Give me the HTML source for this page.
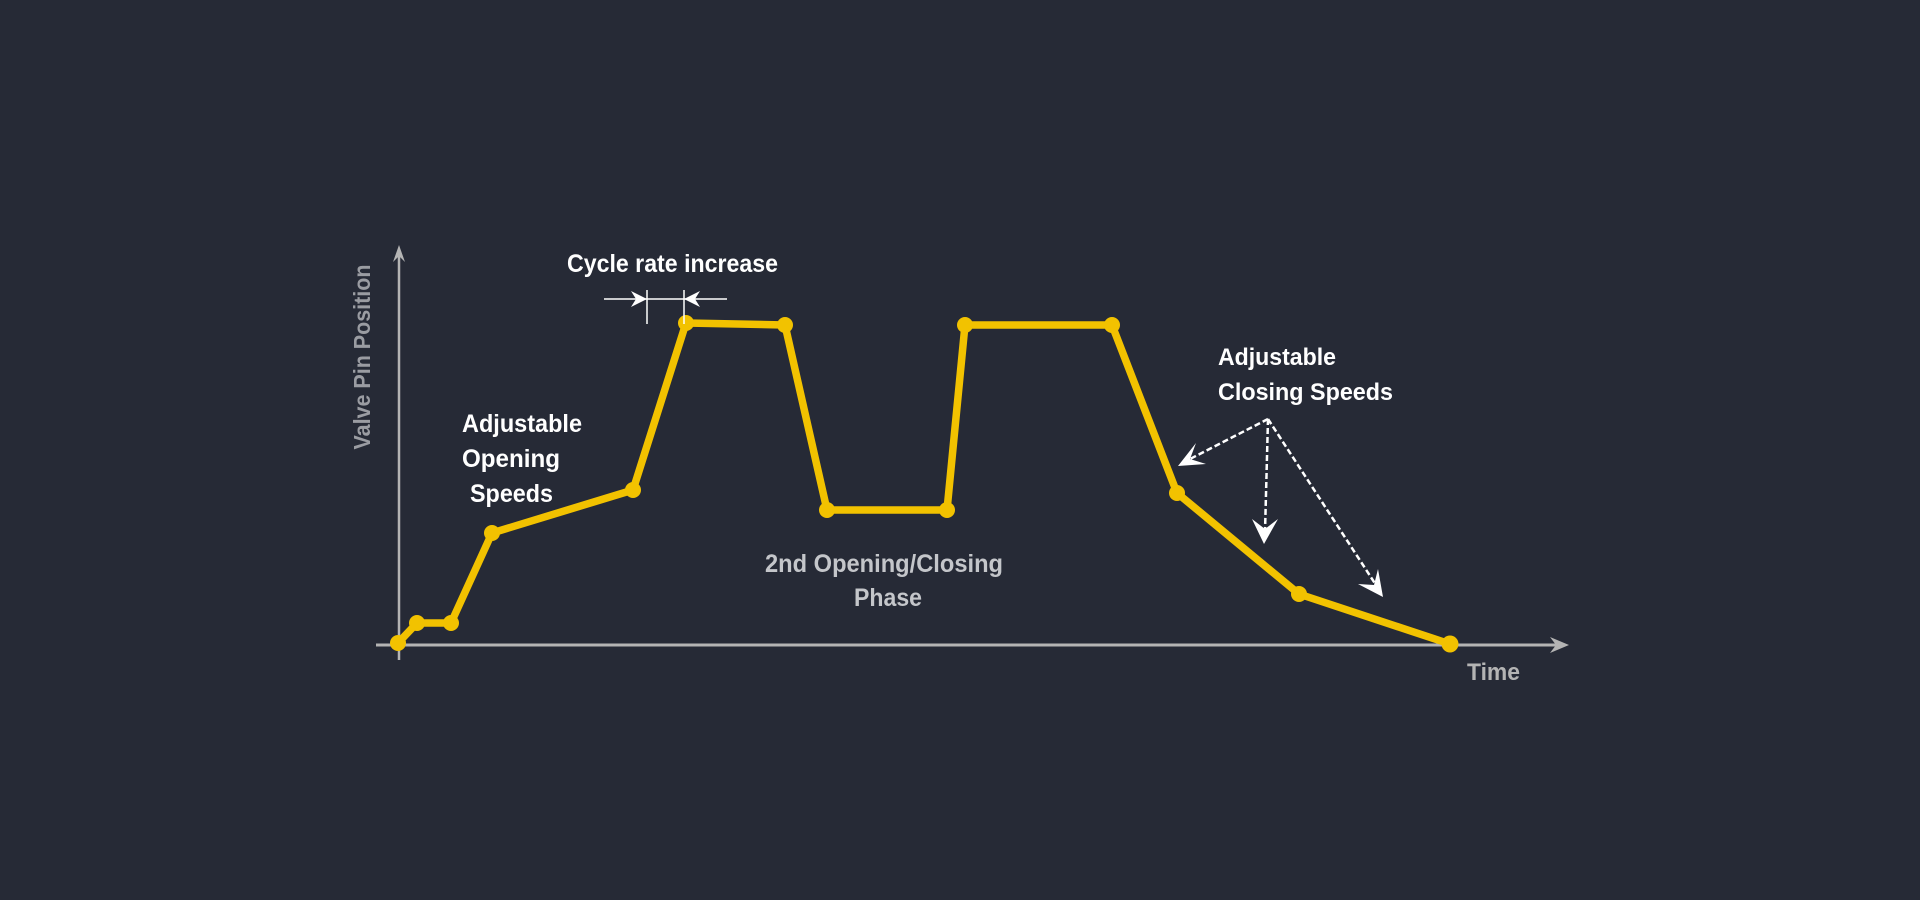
<!DOCTYPE html>
<html><head><meta charset="utf-8"><style>
html,body{margin:0;padding:0;background:#262a36;}
svg{display:block;}
text{font-family:"Liberation Sans",Arial,sans-serif;font-weight:bold;}
</style></head><body>
<svg width="1920" height="900" viewBox="0 0 1920 900" xmlns="http://www.w3.org/2000/svg">
<rect width="1920" height="900" fill="#262a36"/>
<!-- axes -->
<line x1="399" y1="660" x2="399" y2="252" stroke="#b4b4b4" stroke-width="2.5"/>
<path d="M399,245 L393,262 L399,256 L405,262 Z" fill="#b4b4b4"/>
<line x1="376" y1="645" x2="1560" y2="645" stroke="#b4b4b4" stroke-width="3"/>
<path d="M1569,645 L1550,637 L1556,645 L1550,653 Z" fill="#b4b4b4"/>
<text x="0" y="0" transform="translate(370,357) rotate(-90)" text-anchor="middle" font-size="23" fill="#9a9ca2" textLength="185" lengthAdjust="spacingAndGlyphs">Valve Pin Position</text>
<text x="1467" y="680" font-size="24" fill="#b4b4b4" textLength="53" lengthAdjust="spacingAndGlyphs">Time</text>
<!-- curve -->
<polyline fill="none" stroke="#f2c200" stroke-width="7.5" stroke-linejoin="round" points="398,643 417,623 451,623 492,533 633,490 686,323 785,325 827,510 947,510 965,325 1112,325 1177,493 1299,594 1450,644"/>
<g fill="#f2c200">
<circle cx="398" cy="643" r="8"/><circle cx="417" cy="623" r="8"/><circle cx="451" cy="623" r="8"/>
<circle cx="492" cy="533" r="8"/><circle cx="633" cy="490" r="8"/><circle cx="686" cy="323" r="8"/>
<circle cx="785" cy="325" r="8"/><circle cx="827" cy="510" r="8"/><circle cx="947" cy="510" r="8"/>
<circle cx="965" cy="325" r="8"/><circle cx="1112" cy="325" r="8"/><circle cx="1177" cy="493" r="8"/>
<circle cx="1299" cy="594" r="8"/><circle cx="1450" cy="644" r="8.5"/>
</g>
<!-- cycle rate dimension -->
<text x="567" y="272" font-size="25" fill="#ffffff" textLength="211" lengthAdjust="spacingAndGlyphs">Cycle rate increase</text>
<g stroke="#ffffff" stroke-width="1.5">
<line x1="604" y1="299" x2="727" y2="299"/>
<line x1="647" y1="290" x2="647" y2="324"/>
<line x1="684" y1="290" x2="684" y2="324"/>
</g>
<path d="M647,299 L631,291 L636,299 L631,307 Z" fill="#fff"/>
<path d="M684,299 L700,291 L695,299 L700,307 Z" fill="#fff"/>
<!-- labels -->
<text x="462" y="432" font-size="25" fill="#ffffff" textLength="120" lengthAdjust="spacingAndGlyphs">Adjustable</text>
<text x="462" y="467" font-size="25" fill="#ffffff" textLength="98" lengthAdjust="spacingAndGlyphs">Opening</text>
<text x="470" y="502" font-size="25" fill="#ffffff" textLength="83" lengthAdjust="spacingAndGlyphs">Speeds</text>
<text x="765" y="572" font-size="25" fill="#c4c6ca" textLength="238" lengthAdjust="spacingAndGlyphs">2nd Opening/Closing</text>
<text x="854" y="606" font-size="25" fill="#c4c6ca" textLength="68" lengthAdjust="spacingAndGlyphs">Phase</text>
<text x="1218" y="365" font-size="24" fill="#ffffff" textLength="118" lengthAdjust="spacingAndGlyphs">Adjustable</text>
<text x="1218" y="400" font-size="24" fill="#ffffff" textLength="175" lengthAdjust="spacingAndGlyphs">Closing Speeds</text>
<!-- dashed arrows -->
<g stroke="#ffffff" stroke-width="2.5" stroke-dasharray="6,3" fill="none">
<line x1="1268" y1="419" x2="1188" y2="460"/>
<line x1="1268" y1="419" x2="1265" y2="532"/>
<line x1="1268" y1="419" x2="1376" y2="585"/>
</g>
<g fill="#ffffff">
<path d="M1178,466 L1196,443 L1190,459 L1206,464 Z"/>
<path d="M1264,544 L1252,519 L1265,529 L1278,519 Z"/>
<path d="M1383,597 L1358,584 L1374,585 L1378,569 Z"/>
</g>
</svg>
</body></html>
